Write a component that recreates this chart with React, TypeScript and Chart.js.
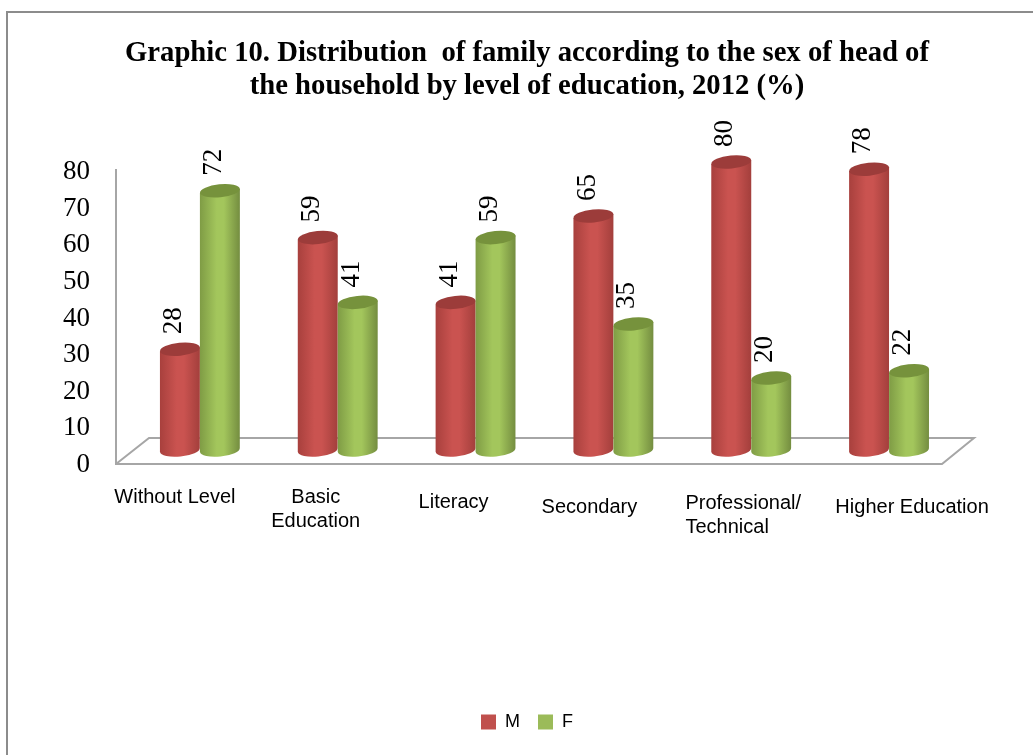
import React, { useEffect, useRef } from "react";
import { Chart, registerables } from "chart.js";

Chart.register(...registerables);

const titleLines = [
  "Graphic 10. Distribution  of family according to the sex of head of",
  "the household by level of education, 2012 (%)",
];
const categories = ["Without Level", "Basic Education", "Literacy", "Secondary", "Professional/ Technical", "Higher Education"];
const maleValues = [28, 59, 41, 65, 80, 78];
const femaleValues = [72, 41, 59, 35, 20, 22];
const yTicks = [0, 10, 20, 30, 40, 50, 60, 70, 80];

// label layout: lines, horizontal anchor offset from group centre, first baseline row
const labelLines = [["Without Level"], ["Basic", "Education"], ["Literacy"], ["Secondary"], ["Professional/", "Technical"], ["Higher Education"]];
const labelDx = [-25, -22, -22, -24, -8, 23];
const labelY = [497, 497, 502, 507, 503, 507];

const SERIF = '"Liberation Serif"';
const SANS = '"Liberation Sans"';
const RY = 6.5;
const TILT = -0.1;

const palettes = [
  { edgeL: "#a8403d", mid: "#ca5350", edgeR: "#a33f3c", top: "#9c3c3a", bottom: "#a8423f" },
  { edgeL: "#7f9c45", mid: "#a3c65c", edgeR: "#748d40", top: "#76923c", bottom: "#87a64b" },
];

const cylinders = {
  id: "cylinders",
  beforeDatasetDraw() {
    return false;
  },
  afterDatasetsDraw(chart: any) {
    const ctx = chart.ctx;
    chart.data.datasets.forEach((ds: any, di: number) => {
      const meta = chart.getDatasetMeta(di);
      const pal = palettes[di];
      meta.data.forEach((bar: any, i: number) => {
        const w = bar.width;
        const l = bar.x - w / 2;
        const r = bar.x + w / 2;
        const g = ctx.createLinearGradient(l, 0, r, 0);
        g.addColorStop(0, pal.edgeL);
        g.addColorStop(0.42, pal.mid);
        g.addColorStop(0.6, pal.mid);
        g.addColorStop(1, pal.edgeR);
        ctx.save();
        ctx.fillStyle = g;
        ctx.beginPath();
        ctx.moveTo(l, bar.y + 2);
        ctx.lineTo(l, bar.base + 2);
        ctx.ellipse(bar.x, bar.base, w / 2, RY, TILT, Math.PI, 0, true);
        ctx.lineTo(r, bar.y - 2);
        ctx.closePath();
        ctx.fill();
        ctx.fillStyle = pal.top;
        ctx.beginPath();
        ctx.ellipse(bar.x, bar.y, w / 2, RY, TILT, 0, Math.PI * 2);
        ctx.fill();
        ctx.restore();
        // value label
        ctx.save();
        ctx.translate(bar.x - 6, bar.y - 15);
        ctx.rotate(-Math.PI / 2);
        ctx.font = `27px ${SERIF}`;
        ctx.fillStyle = "#000";
        ctx.textAlign = "left";
        ctx.textBaseline = "middle";
        ctx.fillText(String(ds.data[i]), 0, 0);
        ctx.restore();
      });
    });
  },
};

const backdrop = {
  id: "backdrop",
  beforeDatasetsDraw(chart: any) {
    const ctx = chart.ctx;
    const { left, right, top, bottom } = chart.chartArea;
    ctx.save();
    // page frame
    ctx.strokeStyle = "#8c8c8c";
    ctx.lineWidth = 2;
    ctx.beginPath();
    ctx.moveTo(7, chart.height);
    ctx.lineTo(7, 12);
    ctx.lineTo(chart.width, 12);
    ctx.stroke();
    // wall and floor
    ctx.strokeStyle = "#a6a6a6";
    ctx.lineWidth = 2;
    ctx.beginPath();
    ctx.moveTo(left - 15, top - 3);
    ctx.lineTo(left - 15, bottom - 1);
    ctx.lineTo(right - 16, bottom - 1);
    ctx.lineTo(right + 16, bottom - 27);
    ctx.lineTo(left + 18, bottom - 27);
    ctx.lineTo(left - 15, bottom - 1);
    ctx.stroke();
    ctx.restore();
    // category labels
    const x = chart.scales.x;
    ctx.save();
    ctx.font = `20px ${SANS}`;
    ctx.fillStyle = "#000";
    ctx.textBaseline = "middle";
    ctx.textAlign = "left";
    labelLines.forEach((lines, i) => {
      const cx = x.getPixelForValue(i) + labelDx[i];
      const widest = Math.max(...lines.map((s) => ctx.measureText(s).width));
      lines.forEach((s, j) => {
        const w = ctx.measureText(s).width;
        const px = i === 4 ? cx - widest / 2 : cx - w / 2;
        ctx.fillText(s, px, labelY[i] + j * 24);
      });
    });
    ctx.restore();
  },
};

export default function App() {
  const ref = useRef<HTMLCanvasElement>(null);
  useEffect(() => {
    const chart = new Chart(ref.current!, {
      type: "bar",
      data: {
        labels: categories,
        datasets: [
          { label: "M", data: maleValues, backgroundColor: "#c0504d", yAxisID: "y1", clip: false },
          { label: "F", data: femaleValues, backgroundColor: "#9bbb59", yAxisID: "y1", clip: false },
        ],
      },
      plugins: [backdrop, cylinders],
      options: {
        responsive: false,
        animation: false,
        devicePixelRatio: 1,
        layout: { padding: { left: 60, right: 39, top: 0, bottom: 14 }, autoPadding: false },
        datasets: { bar: { categoryPercentage: 0.58, barPercentage: 1 } },
        plugins: {
          title: {
            display: true,
            text: titleLines,
            color: "#000",
            font: { family: SERIF, size: 28.7, weight: "bold", lineHeight: 33 / 28.7 },
            padding: { top: 37, bottom: 69 },
          },
          legend: {
            display: true,
            position: "bottom",
            labels: {
              boxWidth: 15,
              boxHeight: 15,
              padding: 18,
              color: "#000",
              font: { family: SANS, size: 18 },
            },
          },
          tooltip: { enabled: false },
        },
        scales: {
          x: {
            grid: { display: false },
            border: { display: false },
            ticks: { display: false },
            afterFit(scale: any) {
              scale.height = 230;
            },
          },
          y: {
            min: 0,
            max: 80,
            position: "left",
            afterBuildTicks(scale: any) {
              scale.ticks = yTicks.map((value) => ({ value }));
            },
            grid: { display: false },
            border: { display: false },
            ticks: {
              padding: 33,
              color: "#000",
              font: { family: SERIF, size: 27 },
            },
            afterFit(scale: any) {
              scale.width = 71;
            },
          },
          y1: {
            display: false,
            position: "right",
            min: -4.17,
            max: 77.22,
            afterFit(scale: any) {
              scale.width = 36;
            },
          },
        },
      },
    } as any);
    return () => chart.destroy();
  }, []);
  return (
    <div style={{ position: "fixed", left: 0, top: 0 }}>
      <canvas ref={ref} width={1033} height={755} style={{ display: "block" }} />
    </div>
  );
}
